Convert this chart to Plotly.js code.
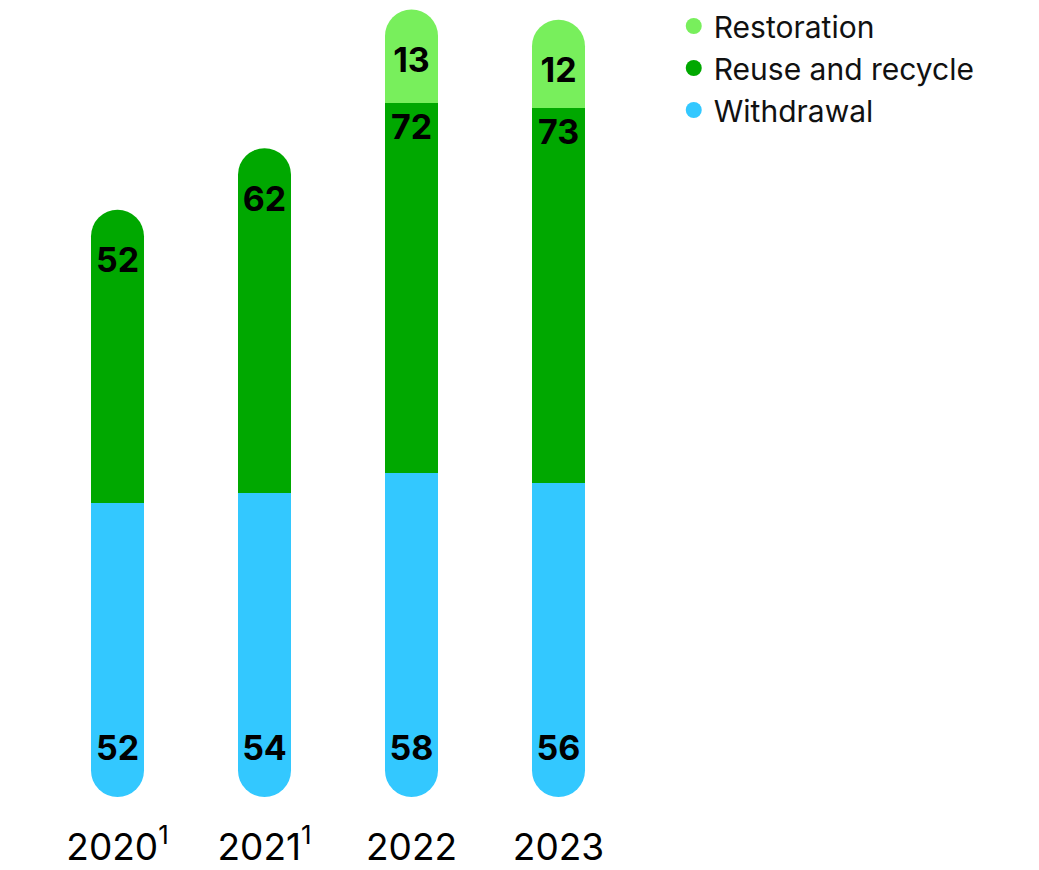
<!DOCTYPE html>
<html><head><meta charset="utf-8">
<script src="https://cdn.plot.ly/plotly-3.0.1.min.js"></script>
<style>html,body{margin:0;padding:0;background:#fff}</style>
</head><body><div id="chart" style="width:1039px;height:870px"></div>
<script>
const years = ['2020', '2021', '2022', '2023'];
const tickLabels = ['2020<sup>1</sup>', '2021<sup>1</sup>', '2022', '2023'];
const withdrawal = [52, 54, 58, 56];
const reuseRecycle = [52, 62, 72, 73];
const restoration = [null, null, 13, 12];
const seriesNames = ['Restoration', 'Reuse and recycle', 'Withdrawal'];

const cBlue = '#33c8ff', cGreen = '#00a800', cLight = '#78ef5c';
const FONT = 'Inter, "Noto Sans", sans-serif';

const totals = years.map((_, i) => withdrawal[i] + reuseRecycle[i] + (restoration[i] || 0));
const topColors = years.map((_, i) => restoration[i] ? cLight : cGreen);
const zeros = years.map(() => 0);

const labelFont = {family: FONT, size: 34, color: '#000', weight: 700};

function barTrace(name, vals, color, anchor) {
  const idx = years.map((_, i) => i).filter(i => vals[i] != null);
  return {
    type: 'bar', name: name, x: idx.map(i => years[i]), y: idx.map(i => vals[i]),
    xaxis: 'x2', yaxis: 'y2',
    marker: {color: color, line: {width: 0}},
    texttemplate: '%{y}',
    textposition: 'inside', insidetextanchor: anchor, textangle: 0,
    constraintext: 'none', insidetextfont: labelFont,
    showlegend: false, hoverinfo: 'skip'
  };
}

const data = [
  // rounded caps (base subplot, drawn beneath bars)
  {type: 'scatter', mode: 'markers', x: years, y: zeros, xaxis: 'x', yaxis: 'y',
   marker: {size: 53, color: cBlue, line: {width: 0}}, showlegend: false, hoverinfo: 'skip', cliponaxis: false},
  {type: 'scatter', mode: 'markers', x: years, y: totals, xaxis: 'x', yaxis: 'y',
   marker: {size: 53, color: topColors, line: {width: 0}}, showlegend: false, hoverinfo: 'skip', cliponaxis: false},
  // legend entries
  {type: 'scatter', mode: 'markers', x: [null], y: [null], name: seriesNames[0], legendgroup: 'a',
   marker: {size: 16, color: cLight}},
  {type: 'scatter', mode: 'markers', x: [null], y: [null], name: seriesNames[1], legendgroup: 'b',
   marker: {size: 16, color: cGreen}},
  {type: 'scatter', mode: 'markers', x: [null], y: [null], name: seriesNames[2], legendgroup: 'c',
   marker: {size: 16, color: cBlue}},
  // bars (overlay subplot)
  barTrace(seriesNames[2], withdrawal, cBlue, 'start'),
  barTrace(seriesNames[1], reuseRecycle, cGreen, 'end'),
  barTrace(seriesNames[0], restoration, cLight, 'end')
];

const yr = [-10.0, 149.6];
const layout = {
  width: 1039, height: 870,
  margin: {l: 44, r: 407, t: 0, b: 48},
  paper_bgcolor: '#fff', plot_bgcolor: '#fff',
  barmode: 'stack', bargap: 0.64,
  showlegend: true,
  font: {family: FONT, color: '#000'},
  xaxis: {type: 'category', categoryorder: 'array', categoryarray: years, range: [-0.5, 3.5],
          tickvals: years, ticktext: tickLabels, ticks: '', showline: false, showgrid: false,
          zeroline: false, tickfont: {family: FONT, size: 37, color: '#000'}, fixedrange: true},
  xaxis2: {type: 'category', categoryorder: 'array', categoryarray: years, range: [-0.5, 3.5],
           overlaying: 'x', visible: false, fixedrange: true},
  yaxis: {range: yr, visible: false, fixedrange: true},
  yaxis2: {range: yr, overlaying: 'y', visible: false, fixedrange: true},
  legend: {x: 1.071, xanchor: 'left', y: 1.003, yanchor: 'top', traceorder: 'normal',
           tracegroupgap: 5, bgcolor: 'rgba(0,0,0,0)',
           font: {family: FONT, size: 30, color: '#111'}}
};

Plotly.newPlot('chart', data, layout, {displayModeBar: false, staticPlot: true});
</script></body></html>
